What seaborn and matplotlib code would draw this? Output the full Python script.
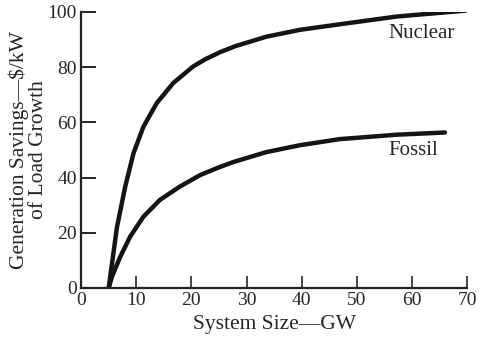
import numpy as np
import pandas as pd
import seaborn as sns
import matplotlib.pyplot as plt

# valores
nuclear_x = [5, 6.5, 8, 9.5, 11.3, 13.7, 16.7, 20.3, 22.5, 25.2, 28, 33.6, 39.7, 46.9, 57.2, 70]
nuclear_y = [0, 22, 36.7, 48.8, 58.4, 66.9, 74.2, 80.2, 82.8, 85.4, 87.6, 91, 93.5, 95.5, 98.3, 100.5]
fossil_x = [5, 5.6, 7.1, 8.9, 11.3, 14.3, 17.9, 21.6, 24.9, 27.6, 33.6, 39.7, 46.9, 57.2, 66]
fossil_y = [0, 4.1, 11.3, 18.6, 25.8, 31.9, 36.7, 40.9, 43.6, 45.6, 49.2, 51.7, 53.9, 55.5, 56.3]
x_ticks = [0, 10, 20, 30, 40, 50, 60, 70]
y_ticks = [0, 20, 40, 60, 80, 100]

sns.set_style("ticks")
plt.rcParams['font.family'] = ['Liberation Serif', 'DejaVu Serif']

df = pd.concat([
    pd.DataFrame({'size': nuclear_x, 'savings': nuclear_y, 'type': 'Nuclear'}),
    pd.DataFrame({'size': fossil_x, 'savings': fossil_y, 'type': 'Fossil'}),
])

fig = plt.figure(figsize=(4.8, 3.49), dpi=100)
ax = fig.add_axes([0.169, 0.175, 0.804, 0.791])
sns.lineplot(data=df, x='size', y='savings', units='type', estimator=None,
             color='#141414', linewidth=3.2, ax=ax, sort=True,
             solid_joinstyle='round', solid_capstyle='round')

ax.set_xlim(0, 70)
ax.set_ylim(0, 100)
ax.set_xticks(x_ticks)
ax.set_yticks(y_ticks)
sns.despine(ax=ax)
for s in ['left', 'bottom']:
    ax.spines[s].set_linewidth(1.6)
    ax.spines[s].set_color('#222222')
ax.tick_params(axis='y', direction='in', length=11, width=1.4, pad=3, labelsize=14)
ax.tick_params(axis='x', direction='in', length=9, width=1.2, pad=3, labelsize=14)

ax.set_xlabel('System Size—GW', fontsize=15.5, labelpad=4)
ax.set_ylabel('Generation Savings—$/kW\nof Load Growth', fontsize=15.5,
              labelpad=0, linespacing=0.95)

ax.text(61.7, 92.3, 'Nuclear', fontsize=15, ha='center', va='center')
ax.text(60.2, 49.7, 'Fossil', fontsize=15, ha='center', va='center')

fig.savefig('out.png', dpi=100)
